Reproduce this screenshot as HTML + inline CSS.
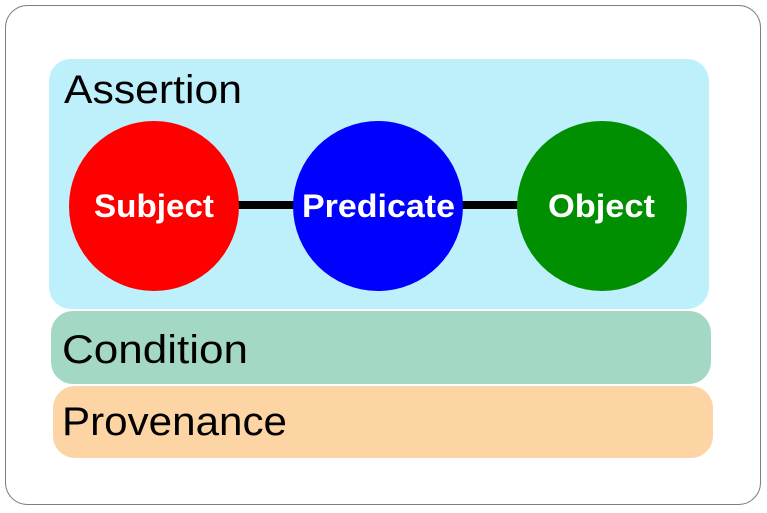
<!DOCTYPE html>
<html><head><style>html,body{margin:0;padding:0;background:#fff}svg{display:block}</style></head>
<body>
<svg width="767" height="513" xmlns="http://www.w3.org/2000/svg" font-family="Liberation Sans, sans-serif">
<rect x="5.5" y="5.5" width="755" height="499" rx="22" fill="#fff" stroke="#7f7f7f" stroke-width="1"/>
<rect x="49" y="59" width="660" height="250" rx="22" fill="#bdf0fb"/>
<rect x="51" y="311" width="660" height="73" rx="22" fill="#a3d9c4"/>
<rect x="53" y="386" width="660" height="72" rx="22" fill="#fdd5a5"/>
<text x="64" y="103" font-size="40" textLength="178" lengthAdjust="spacingAndGlyphs">Assertion</text>
<text x="62" y="363" font-size="40" textLength="186" lengthAdjust="spacingAndGlyphs">Condition</text>
<text x="62" y="435" font-size="40" textLength="225" lengthAdjust="spacingAndGlyphs">Provenance</text>
<line x1="230" y1="205" x2="530" y2="205" stroke="#000" stroke-width="8"/>
<circle cx="154" cy="206" r="85" fill="#f00"/>
<circle cx="378" cy="206" r="85" fill="#00f"/>
<circle cx="602" cy="206" r="85" fill="#008f00"/>
<g fill="#fff" font-weight="bold" font-size="32">
<text x="94" y="217" textLength="120" lengthAdjust="spacingAndGlyphs">Subject</text>
<text x="302" y="217" textLength="153" lengthAdjust="spacingAndGlyphs">Predicate</text>
<text x="548" y="217" textLength="107" lengthAdjust="spacingAndGlyphs">Object</text>
</g>
</svg>
</body></html>
